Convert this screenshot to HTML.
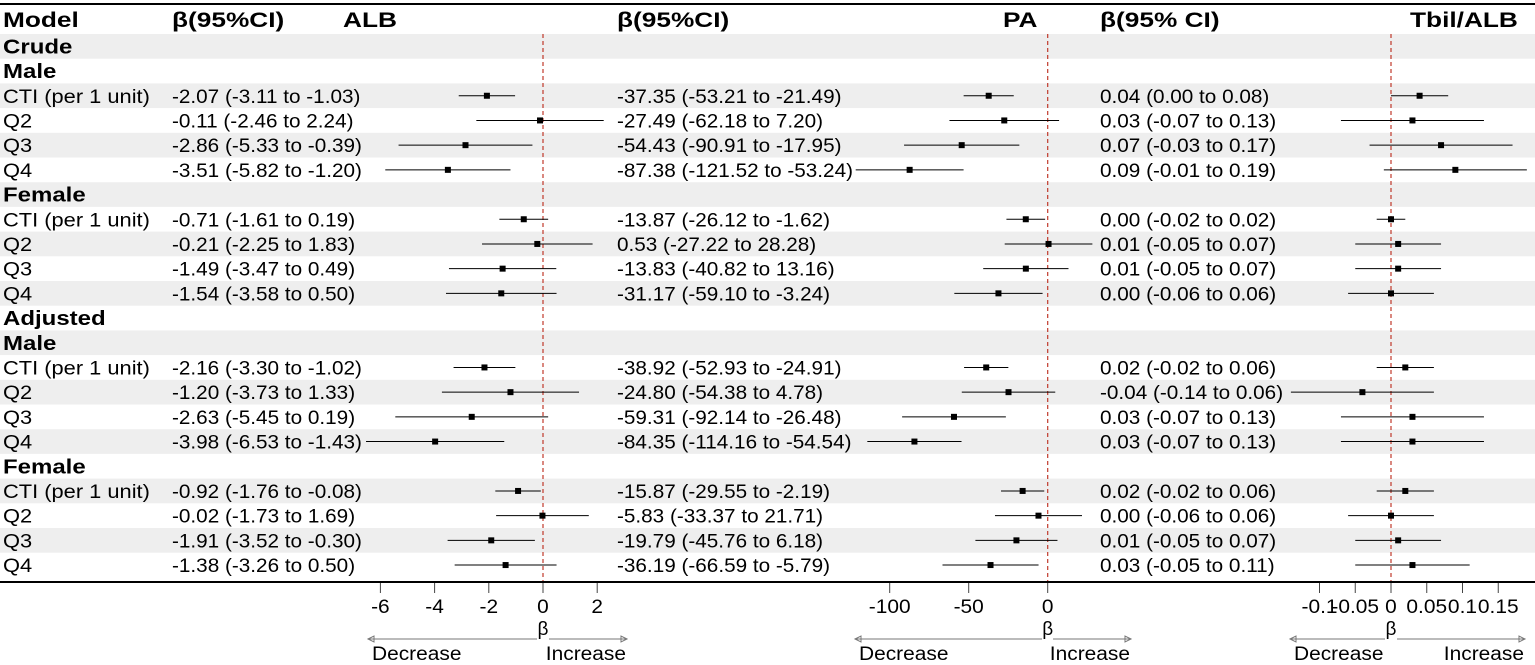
<!DOCTYPE html>
<html><head><meta charset="utf-8">
<style>
html,body{margin:0;padding:0;background:#fff;}
svg{display:block;font-family:"Liberation Sans",Arial,sans-serif;}
</style></head>
<body>
<svg id="chart" width="1535" height="665" viewBox="0 0 1535 665" xmlns="http://www.w3.org/2000/svg"></svg>
<script>
const rowLabels=["Crude","Male","CTI (per 1 unit)","Q2","Q3","Q4","Female","CTI (per 1 unit)","Q2","Q3","Q4","Adjusted","Male","CTI (per 1 unit)","Q2","Q3","Q4","Female","CTI (per 1 unit)","Q2","Q3","Q4"];
const rowBold=[1,1,0,0,0,0,1,0,0,0,0,1,1,0,0,0,0,1,0,0,0,0];
const albEst=[null,null,-2.07,-0.11,-2.86,-3.51,null,-0.71,-0.21,-1.49,-1.54,null,null,-2.16,-1.20,-2.63,-3.98,null,-0.92,-0.02,-1.91,-1.38];
const albLo=[null,null,-3.11,-2.46,-5.33,-5.82,null,-1.61,-2.25,-3.47,-3.58,null,null,-3.30,-3.73,-5.45,-6.53,null,-1.76,-1.73,-3.52,-3.26];
const albHi=[null,null,-1.03,2.24,-0.39,-1.20,null,0.19,1.83,0.49,0.50,null,null,-1.02,1.33,0.19,-1.43,null,-0.08,1.69,-0.30,0.50];
const paEst=[null,null,-37.35,-27.49,-54.43,-87.38,null,-13.87,0.53,-13.83,-31.17,null,null,-38.92,-24.80,-59.31,-84.35,null,-15.87,-5.83,-19.79,-36.19];
const paLo=[null,null,-53.21,-62.18,-90.91,-121.52,null,-26.12,-27.22,-40.82,-59.10,null,null,-52.93,-54.38,-92.14,-114.16,null,-29.55,-33.37,-45.76,-66.59];
const paHi=[null,null,-21.49,7.20,-17.95,-53.24,null,-1.62,28.28,13.16,-3.24,null,null,-24.91,4.78,-26.48,-54.54,null,-2.19,21.71,6.18,-5.79];
const tbEst=[null,null,0.04,0.03,0.07,0.09,null,0.00,0.01,0.01,0.00,null,null,0.02,-0.04,0.03,0.03,null,0.02,0.00,0.01,0.03];
const tbLo=[null,null,0.00,-0.07,-0.03,-0.01,null,-0.02,-0.05,-0.05,-0.06,null,null,-0.02,-0.14,-0.07,-0.07,null,-0.02,-0.06,-0.05,-0.05];
const tbHi=[null,null,0.08,0.13,0.17,0.19,null,0.02,0.07,0.07,0.06,null,null,0.06,0.06,0.13,0.13,null,0.06,0.06,0.07,0.11];
const albTicks=[-6,-4,-2,0,2];
const paTicks=[-100,-50,0];
const tbTicks=[-0.1,-0.05,0,0.05,0.1,0.15];
const tbTickLabels=["-0.1","-0.05","0","0.05","0.1","0.15"];

const NS="http://www.w3.org/2000/svg";
const svg=document.getElementById('chart');
function mk(tag,attrs,text){const e=document.createElementNS(NS,tag);for(const k in attrs)e.setAttribute(k,attrs[k]);if(text!==undefined)e.textContent=text;svg.appendChild(e);return e;}
function stretch(t,f){try{const w=t.getComputedTextLength();if(w>0){t.setAttribute('textLength',(w*f).toFixed(1));t.setAttribute('lengthAdjust','spacingAndGlyphs');}}catch(e){}}
const top0=34, rh=24.7;
const rowY=i=>top0+rh*i+rh/2;
const xAlb=v=>543+v*27.1;
const xPa=v=>1047.7+v*1.58;
const xTb=v=>1391+v*715;
const fmt=(v)=>v.toFixed(2);
const panels=[
 {name:'alb',x:xAlb,est:albEst,lo:albLo,hi:albHi,tx:172,clip:[357,610]},
 {name:'pa',x:xPa,est:paEst,lo:paLo,hi:paHi,tx:617,clip:[853,1105]},
 {name:'tbil-alb',x:xTb,est:tbEst,lo:tbLo,hi:tbHi,tx:1100,clip:[1288,1532]}
];
rowLabels.forEach((l,i)=>{
 if(i%2===0){const r=mk('rect',{x:0,y:top0+rh*i,width:1535,height:rh,fill:'#eeeeee'});
 
 }
});
let hl=mk('line',{x1:0,x2:1535,y1:4,y2:4,stroke:'#000','stroke-width':2});

const hdrs=[["Model",3],["β(95%CI)",172],["ALB",343],["β(95%CI)",617],["PA",1003],["β(95% CI)",1100],["Tbil/ALB",1410]];
hdrs.forEach(h=>{const t=mk('text',{x:h[1],y:27,'font-size':21,'font-weight':'bold',fill:'#000'},h[0]);


stretch(t,1.25);});
rowLabels.forEach((l,i)=>{
 const t=mk('text',{x:3,y:rowY(i)+7,'font-size':rowBold[i]?20:19,'font-weight':rowBold[i]?'bold':'normal',fill:'#000'},l);
 
 
 stretch(t,rowBold[i]?1.2:1.15);
});
panels.forEach(p=>{
 const rl=mk('line',{x1:p.x(0),x2:p.x(0),y1:34,y2:582,stroke:'#c0392b','stroke-width':1.2,'stroke-dasharray':'4,3'});
 
 
 p.est.forEach((v,i)=>{
  if(v===null)return;
  const txt=fmt(v)+' ('+fmt(p.lo[i])+' to '+fmt(p.hi[i])+')';
  const t=mk('text',{x:p.tx,y:rowY(i)+7,'font-size':19,fill:'#000'},txt);
  
  
  stretch(t,1.09);
  const x1=Math.max(p.clip[0],p.x(p.lo[i])),x2=Math.min(p.clip[1],p.x(p.hi[i]));
  const ci=mk('line',{x1:x1,x2:x2,y1:rowY(i),y2:rowY(i),stroke:'#000','stroke-width':1});
  
  
  const pt=mk('rect',{x:p.x(v)-3,y:rowY(i)-3,width:6,height:6,fill:'#000'});
  
  
 });
});
let bl=mk('line',{x1:0,x2:1535,y1:582,y2:582,stroke:'#000','stroke-width':2});

function ticks(p,vals,labels){
 vals.forEach((v,j)=>{
  const tk=mk('line',{x1:p.x(v),x2:p.x(v),y1:583,y2:593,stroke:'#444','stroke-width':1});
  
  
  const tl=mk('text',{x:p.x(v),y:613,'font-size':19,'text-anchor':'middle',fill:'#000'},labels?labels[j]:String(v));
  
  
  stretch(tl,1.1);
 });
}
ticks(panels[0],albTicks);ticks(panels[1],paTicks);ticks(panels[2],tbTicks,tbTickLabels);
const arrows=[[panels[0],368,537,549,627],[panels[1],855,1042,1053,1131],[panels[2],1290,1385,1397,1525]];
arrows.forEach(a=>{
 const p=a[0],z=p.x(0);
 const b=mk('text',{x:z,y:635,'font-size':19,'text-anchor':'middle',fill:'#000'},'β');
 
 const l1=mk('line',{x1:a[1],x2:a[2],y1:639,y2:639,stroke:'#777','stroke-width':1});
 
 mk('path',{d:`M${a[1]},639 l6,-3 v6 z`,fill:'none',stroke:'#777'});
 const l2=mk('line',{x1:a[3],x2:a[4],y1:639,y2:639,stroke:'#777','stroke-width':1});
 
 mk('path',{d:`M${a[4]},639 l-6,-3 v6 z`,fill:'none',stroke:'#777'});
 const d=mk('text',{x:a[1]+4,y:660,'font-size':19,fill:'#000'},'Decrease');
 
 stretch(d,1.1);
 const n=mk('text',{x:a[4]-1,y:660,'font-size':19,'text-anchor':'end',fill:'#000'},'Increase');
 
 stretch(n,1.1);
});
</script>
</body></html>
